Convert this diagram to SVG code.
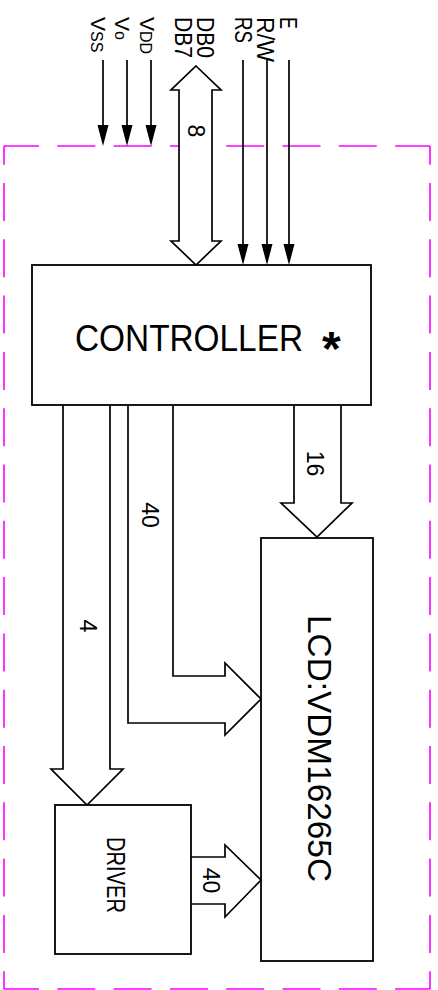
<svg xmlns="http://www.w3.org/2000/svg" width="438" height="990" viewBox="0 0 438 990">
<style>
.ln{stroke:#000;stroke-width:1.7;fill:none}
.bx{stroke:#000;stroke-width:1.8;fill:#fff}
.bus{stroke:#000;stroke-width:1.7;fill:#fff;stroke-linejoin:miter}
.dh{stroke:#ff00ff;stroke-width:1.6;fill:none;stroke-dasharray:38 18.3}
text{font-family:"Liberation Sans",Arial,sans-serif;fill:#000}
</style>
<defs>
<path id="ah" d="M0,0 L-5.5,-21 L5.5,-21 Z" fill="#000"/>
</defs>
<rect width="438" height="990" fill="#fff"/>
<g id="boundary">
<line class="dh" x1="4" y1="146" x2="430" y2="146" stroke-dashoffset="3"/>
<line class="dh" x1="4" y1="989" x2="430" y2="989" stroke-dashoffset="3"/>
<line class="dh" x1="4" y1="146" x2="4" y2="989" stroke-dashoffset="19.3"/>
<line class="dh" x1="430" y1="146" x2="430" y2="989" stroke-dashoffset="19.3"/>
</g>
<g id="pin-labels" font-size="23">
<text transform="translate(91,17) rotate(90)"><tspan font-size="21">V</tspan><tspan font-size="16">SS</tspan></text>
<text transform="translate(115,17) rotate(90)"><tspan font-size="21">V</tspan><tspan font-size="16">o</tspan></text>
<text transform="translate(140,17) rotate(90)"><tspan font-size="21">V</tspan><tspan font-size="16">DD</tspan></text>
<text transform="translate(197,17) rotate(90)" textLength="41" lengthAdjust="spacingAndGlyphs">DB0</text>
<text transform="translate(175,17) rotate(90)" textLength="41" lengthAdjust="spacingAndGlyphs">DB7</text>
<text transform="translate(235,17) rotate(90)" textLength="26" lengthAdjust="spacingAndGlyphs">RS</text>
<text transform="translate(257,17) rotate(90)" textLength="45" lengthAdjust="spacingAndGlyphs">R/W</text>
<text transform="translate(280,17) rotate(90)" textLength="12" lengthAdjust="spacingAndGlyphs">E</text>
</g>
<g id="connectors">
<line class="ln" x1="103" y1="60" x2="103" y2="130"/>
<use href="#ah" x="103" y="146"/>
<line class="ln" x1="127" y1="60" x2="127" y2="130"/>
<use href="#ah" x="127" y="146"/>
<line class="ln" x1="151" y1="60" x2="151" y2="130"/>
<use href="#ah" x="151" y="146"/>
<line class="ln" x1="243" y1="60" x2="243" y2="250"/>
<use href="#ah" x="243" y="265"/>
<line class="ln" x1="267" y1="60" x2="267" y2="250"/>
<use href="#ah" x="267" y="265"/>
<line class="ln" x1="289" y1="60" x2="289" y2="250"/>
<use href="#ah" x="289" y="265"/>
<path class="bus" d="M196,66 L221,90 H212 V241 H221 L196,265 L171,241 H179 V90 H171 Z"/>
<path class="bus" d="M63,405 V769 H51 L87,805 L123,769 H110 V405"/>
<path class="bus" d="M294,405 V503 H281 L317,537 L352,503 H341 V405"/>
<path class="bus" d="M173,405 V676 H225 V663 L261,699 L225,735 V723 H128 V405"/>
<path class="bus" d="M191,857 H225 V845 L261,880 L225,917 V904 H191"/>
</g>
<g id="bus-labels" font-size="23">
<text transform="translate(188,131) rotate(90)" text-anchor="middle">8</text>
<text transform="translate(307,463.5) rotate(90)" text-anchor="middle">16</text>
<text transform="translate(142,515) rotate(90)" text-anchor="middle">40</text>
<text transform="translate(80,626) rotate(90)" text-anchor="middle">4</text>
<text transform="translate(203,880.5) rotate(90)" text-anchor="middle">40</text>
</g>
<g id="controller">
<rect class="bx" x="32" y="265" width="339" height="140"/>
<text x="75" y="351" font-size="36" textLength="228" lengthAdjust="spacingAndGlyphs">CONTROLLER</text>
<text x="322" y="365" font-size="48" font-weight="bold">*</text>
</g>
<g id="lcd">
<rect class="bx" x="261" y="538" width="112" height="423"/>
<text transform="translate(308,615) rotate(90)" font-size="33" textLength="267" lengthAdjust="spacingAndGlyphs">LCD:VDM16265C</text>
</g>
<g id="driver">
<rect class="bx" x="55" y="805" width="136" height="149"/>
<text transform="translate(107,837) rotate(90)" font-size="26" textLength="76" lengthAdjust="spacingAndGlyphs">DRIVER</text>
</g>
</svg>
